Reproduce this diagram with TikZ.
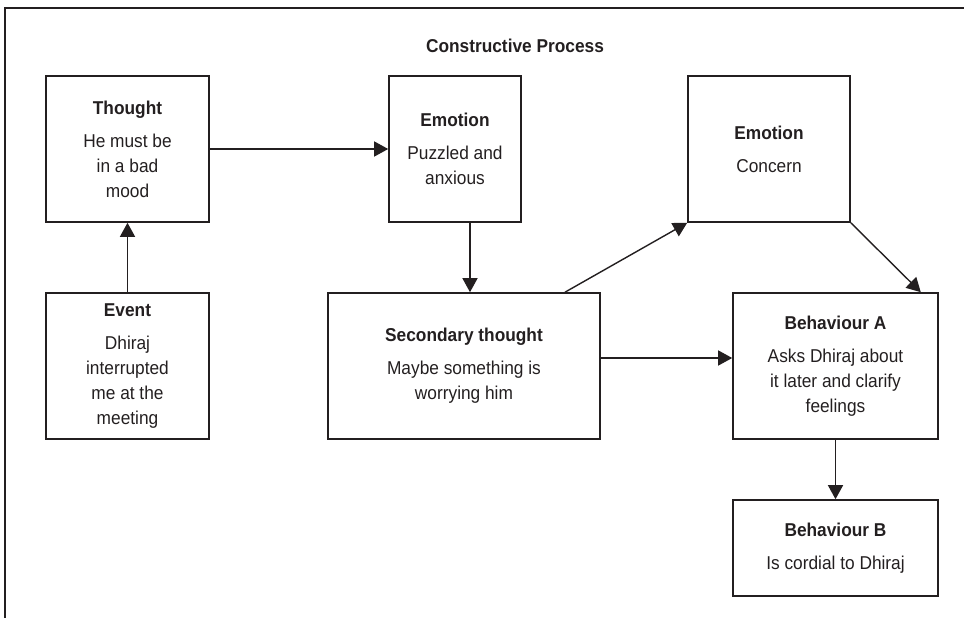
\documentclass[tikz,border=0pt]{standalone}
\usepackage{fontspec}
\setmainfont{Liberation Sans}[FakeStretch=0.93]
\usetikzlibrary{arrows.meta}
\definecolor{ink}{HTML}{231F20}
\begin{document}
\begin{tikzpicture}[x=1pt,y=-1pt,
  box/.style={draw=ink, line width=1.6pt, inner sep=0pt, align=center,
    text=ink, font=\fontsize{18.6}{25}\selectfont},
  arr/.style={draw=ink, line width=1.4pt, -{Triangle[length=14pt,width=15pt]}},
  link/.style={draw=ink, line width=1.4pt}]
\useasboundingbox (0,0) rectangle (964,618);

% frame
\draw[ink, line width=2.5pt] (964,8) -- (5,8) -- (5,618);

% title
\node[anchor=base, text=ink, font=\fontsize{18.6}{25}\selectfont\bfseries]
  (title) at (515,53) {Constructive Process};

% boxes
\node[box, minimum width=163pt, minimum height=146pt] (thought) at (127.5,149)
  {\textbf{Thought}\\[8pt]He must be\\in a bad\\mood};
\node[box, minimum width=163pt, minimum height=146pt] (event) at (127.5,366)
  {\textbf{Event}\\[8pt]Dhiraj\\interrupted\\me at the\\meeting};
\node[box, minimum width=132pt, minimum height=146pt] (emo1) at (455,149)
  {\textbf{Emotion}\\[8pt]Puzzled and\\anxious};
\node[box, minimum width=162pt, minimum height=146pt] (emo2) at (769,149)
  {\textbf{Emotion}\\[8pt]Concern};
\node[box, minimum width=272pt, minimum height=146pt] (sec) at (464,366)
  {\textbf{Secondary thought}\\[8pt]Maybe something is\\worrying him};
\node[box, minimum width=205pt, minimum height=146pt] (behA) at (835.5,366)
  {\textbf{Behaviour A}\\[8pt]Asks Dhiraj about\\it later and clarify\\feelings};
\node[box, minimum width=205pt, minimum height=96pt] (behB) at (835.5,548)
  {\textbf{Behaviour B}\\[8pt]Is cordial to Dhiraj};

% connectors
\draw[arr] (event.north) -- (thought.south);
\draw[arr] (thought.east) -- (emo1.west);
\draw[arr] ([xshift=6pt]sec.north |- emo1.south) -- ([xshift=6pt]sec.north);
\draw[arr] ([xshift=101pt]sec.north) -- (emo2.south west);
\draw[arr] (emo2.south east) -- ([xshift=-18pt]behA.north east);
\draw[arr] ([yshift=8pt]sec.east) -- ([yshift=8pt]sec.east -| behA.west);
\draw[arr] (behA.south) -- (behB.north);
\end{tikzpicture}
\end{document}
